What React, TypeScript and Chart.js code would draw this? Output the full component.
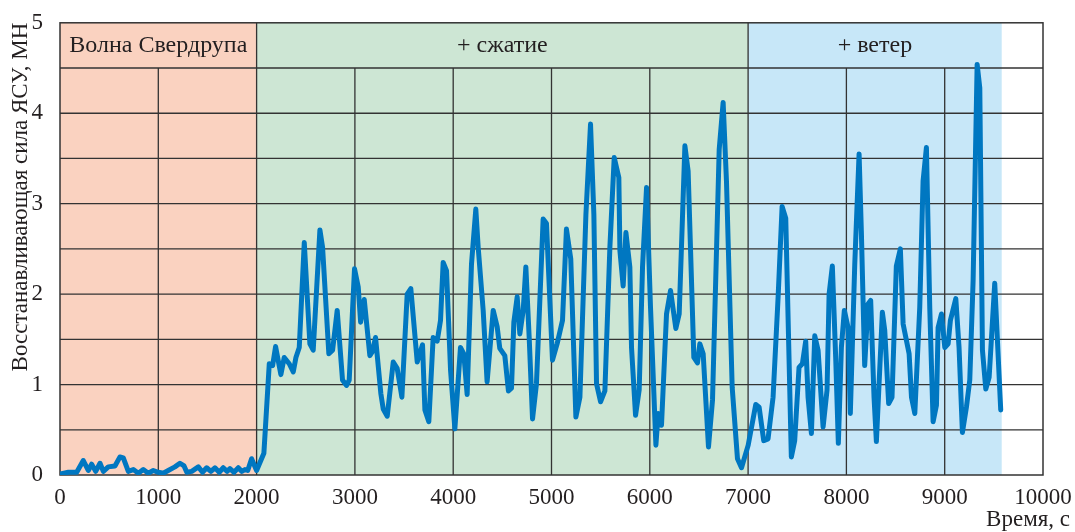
import React, { useEffect, useRef } from "react";
import { Chart, registerables } from "chart.js";

Chart.register(...registerables);

// Time, s
const times = [
  0, 85, 170, 237, 288, 322, 363, 407, 441, 491, 559, 610, 644, 695, 746, 797, 847, 898, 949, 1000,
  1051, 1101, 1169, 1220, 1262, 1290, 1340, 1407, 1450, 1492, 1535, 1576, 1620, 1661, 1700, 1729, 1770,
  1814, 1850, 1881, 1910, 1949, 2000, 2074, 2129, 2163, 2193, 2247, 2281, 2332, 2373, 2400, 2434, 2485,
  2542, 2576, 2644, 2671, 2735, 2773, 2820, 2874, 2915, 2942, 2996, 3034, 3058, 3095, 3152, 3176, 3210,
  3264, 3288, 3329, 3390, 3430, 3478, 3532, 3569, 3634, 3688, 3712, 3752, 3796, 3837, 3871, 3898, 3932,
  3973, 4017, 4074, 4108, 4142, 4186, 4230, 4254, 4305, 4345, 4407, 4447, 4474, 4525, 4562, 4593, 4617,
  4651, 4678, 4712, 4739, 4773, 4807, 4847, 4915, 4949, 5010, 5057, 5112, 5152, 5196, 5248, 5289, 5350,
  5397, 5431, 5458, 5499, 5543, 5594, 5638, 5685, 5696, 5729, 5757, 5797, 5814, 5855, 5892, 5926, 5967,
  6007, 6062, 6085, 6119, 6170, 6211, 6265, 6299, 6357, 6390, 6448, 6485, 6509, 6543, 6597, 6638, 6706,
  6746, 6780, 6838, 6892, 6933, 7001, 7078, 7112, 7159, 7203, 7254, 7305, 7346, 7383, 7440, 7474, 7518,
  7552, 7586, 7610, 7644, 7678, 7712, 7763, 7803, 7824, 7857, 7891, 7918, 7949, 7979, 8017, 8040, 8085,
  8129, 8152, 8186, 8220, 8247, 8281, 8305, 8366, 8390, 8430, 8464, 8508, 8549, 8577, 8638, 8662, 8696,
  8746, 8780, 8814, 8848, 8882, 8916, 8933, 8967, 9001, 9035, 9058, 9113, 9146, 9180, 9221, 9255, 9289,
  9330, 9357, 9384, 9418, 9452, 9509, 9570,
];

// Restoring force, MN
const forces = [
  0.01, 0.03, 0.03, 0.16, 0.05, 0.12, 0.04, 0.13, 0.04, 0.09, 0.1, 0.2, 0.19, 0.04, 0.06, 0.02, 0.06, 0.02, 0.05, 0.03,
  0.02, 0.05, 0.09, 0.13, 0.1, 0.03, 0.04, 0.09, 0.03, 0.08, 0.04, 0.08, 0.03, 0.08, 0.04, 0.07, 0.03,
  0.08, 0.04, 0.06, 0.05, 0.18, 0.05, 0.24, 1.23, 1.21, 1.42, 1.11, 1.3, 1.23, 1.14, 1.3, 1.41, 2.57,
  1.45, 1.38, 2.71, 2.52, 1.34, 1.38, 1.82, 1.05, 0.99, 1.05, 2.28, 2.08, 1.69, 1.94, 1.32, 1.36, 1.52,
  0.9, 0.73, 0.65, 1.25, 1.18, 0.86, 2.0, 2.06, 1.25, 1.44, 0.72, 0.59, 1.52, 1.48, 1.71, 2.35, 2.26,
  1.16, 0.51, 1.41, 1.34, 0.89, 2.33, 2.94, 2.52, 1.82, 1.03, 1.82, 1.64, 1.4, 1.32, 0.93, 0.96, 1.69,
  1.97, 1.56, 1.82, 2.3, 1.52, 0.62, 1.01, 2.83, 2.78, 1.27, 1.45, 1.71, 2.72, 2.39, 0.64, 0.86, 2.88,
  3.88, 2.88, 1.01, 0.81, 0.93, 2.52, 3.51, 3.29, 2.48, 2.09, 2.68, 2.3, 1.41, 0.66, 0.94, 2.3, 3.18,
  1.86, 0.33, 0.68, 0.55, 1.78, 2.04, 1.62, 1.78, 3.64, 3.36, 1.3, 1.24, 1.45, 1.34, 0.31, 0.83, 3.6,
  4.12, 3.25, 0.97, 0.18, 0.08, 0.33, 0.78, 0.75, 0.38, 0.4, 0.86, 1.96, 2.97, 2.84, 0.2, 0.38, 1.19,
  1.23, 1.48, 0.86, 0.46, 1.54, 1.38, 0.53, 0.94, 2.0, 2.31, 1.3, 0.35, 1.41, 1.82, 1.63, 0.68, 2.33,
  3.55, 2.7, 1.21, 1.89, 1.93, 0.86, 0.37, 1.8, 1.6, 0.79, 0.86, 2.31, 2.5, 1.67, 1.34, 0.86, 0.68,
  1.85, 3.25, 3.62, 1.85, 0.59, 0.77, 1.63, 1.78, 1.41, 1.45, 1.71, 1.95, 1.41, 0.47, 0.75, 1.05, 2.15,
  4.54, 4.28, 1.38, 0.95, 1.08, 2.12, 0.72,
];

const xTicks = [0, 1000, 2000, 3000, 4000, 5000, 6000, 7000, 8000, 9000, 10000];
const yTicks = [0, 1, 2, 3, 4, 5];
const yGridLines = [0.5, 1, 1.5, 2, 2.5, 3, 3.5, 4, 4.5];

const bandStarts = [0, 2000, 7000];
const bandEnds = [2000, 7000, 9580];
const bandLabels = ["Волна Свердрупа", "+ сжатие", "+ ветер"];
const bandColors = ["#fad2c0", "#cde6d4", "#c7e7f8"];

const xTitle = "Время, с";
const yTitle = "Восстанавливающая сила ЯСУ, МН";

const FONT = "'Liberation Serif', 'Times New Roman', serif";
const TEXT = "#231f20";
const GRID = "#333333";

const decorPlugin = {
  id: "decor",
  beforeDatasetsDraw(chart: any) {
    const { ctx, chartArea: a, scales } = chart;
    const x = scales.x;
    const y = scales.y;
    ctx.save();
    bandStarts.forEach((s, i) => {
      const x0 = x.getPixelForValue(s);
      const x1 = x.getPixelForValue(bandEnds[i]);
      ctx.fillStyle = bandColors[i];
      ctx.fillRect(x0, a.top, x1 - x0, a.bottom - a.top);
    });
    ctx.strokeStyle = GRID;
    ctx.lineWidth = 1.3;
    ctx.beginPath();
    yGridLines.forEach((v) => {
      const py = y.getPixelForValue(v);
      ctx.moveTo(a.left, py);
      ctx.lineTo(a.right, py);
    });
    const top45 = y.getPixelForValue(4.5);
    xTicks.forEach((t) => {
      if (t === 0 || t === 10000) return;
      const px = x.getPixelForValue(t);
      const full = bandStarts.includes(t);
      ctx.moveTo(px, full ? a.top : top45);
      ctx.lineTo(px, a.bottom);
    });
    ctx.stroke();
    ctx.lineWidth = 1.5;
    ctx.strokeRect(a.left, a.top, a.right - a.left, a.bottom - a.top);

    ctx.fillStyle = TEXT;
    ctx.font = `24px ${FONT}`;
    ctx.textAlign = "center";
    ctx.textBaseline = "middle";
    const ly = y.getPixelForValue(4.75);
    bandLabels.forEach((lab, i) => {
      const cx = x.getPixelForValue((bandStarts[i] + bandEnds[i]) / 2);
      ctx.fillText(lab, cx, ly);
    });
    ctx.restore();
  },
  afterDraw(chart: any) {
    const { ctx } = chart;
    ctx.save();
    ctx.fillStyle = TEXT;
    ctx.font = `23px ${FONT}`;
    ctx.textAlign = "right";
    ctx.textBaseline = "middle";
    ctx.fillText(xTitle, 1070, 520);
    ctx.translate(21, 197);
    ctx.rotate(-Math.PI / 2);
    ctx.textAlign = "center";
    ctx.fillText(yTitle, 0, 0);
    ctx.restore();
  },
};

export default function App() {
  const canvasRef = useRef<HTMLCanvasElement | null>(null);

  useEffect(() => {
    const canvas = canvasRef.current;
    if (!canvas) return;
    const points = times.map((t, i) => ({ x: t, y: forces[i] }));
    const chart = new Chart(canvas, {
      type: "line",
      data: {
        datasets: [
          {
            data: points,
            borderColor: "#0077c1",
            borderWidth: 5,
            pointRadius: 0,
            tension: 0,
            borderJoinStyle: "round",
            borderCapStyle: "round",
            fill: false,
          },
        ],
      },
      options: {
        animation: false,
        responsive: false,
        devicePixelRatio: 1,
        layout: { padding: { left: 0, top: 21, right: 32, bottom: 0 } },
        plugins: { legend: { display: false }, tooltip: { enabled: false } },
        scales: {
          x: {
            type: "linear",
            min: 0,
            max: 10000,
            afterFit: (s: any) => {
              s.height = 57;
            },
            afterBuildTicks: (s: any) => {
              s.ticks = xTicks.map((v) => ({ value: v }));
            },
            grid: { display: false },
            border: { display: false },
            ticks: {
              color: TEXT,
              font: { family: FONT, size: 23 },
              padding: 1,
              maxRotation: 0,
              autoSkip: false,
              callback: (v: any) => String(v),
            },
          },
          y: {
            type: "linear",
            min: 0,
            max: 5,
            afterFit: (s: any) => {
              s.width = 60;
            },
            afterBuildTicks: (s: any) => {
              s.ticks = yTicks.map((v) => ({ value: v }));
            },
            grid: { display: false },
            border: { display: false },
            ticks: {
              color: TEXT,
              font: { family: FONT, size: 23 },
              padding: 9,
              callback: (v: any) => String(v),
            },
          },
        },
      },
      plugins: [decorPlugin],
    });
    return () => chart.destroy();
  }, []);

  return (
    <div style={{ position: "fixed", left: 0, top: 0, width: 1075, height: 532, background: "#fff" }}>
      <canvas ref={canvasRef} width={1075} height={532} style={{ display: "block" }} />
    </div>
  );
}
